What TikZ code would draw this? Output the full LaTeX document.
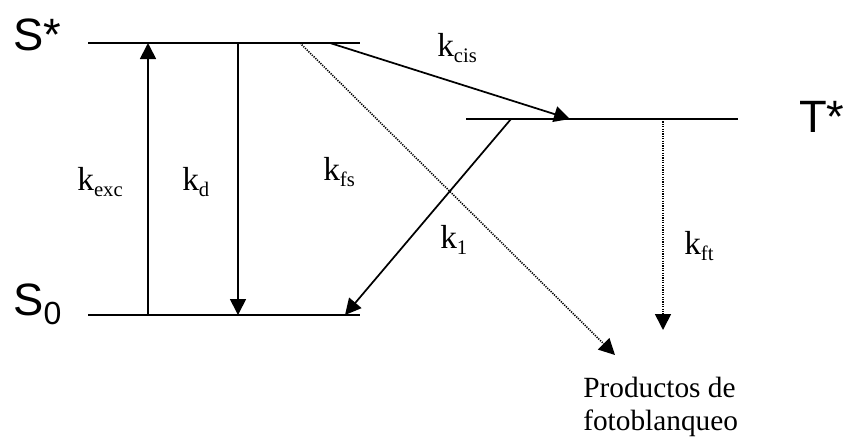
\documentclass[tikz,border=0pt]{standalone}
\usepackage{fontspec}
\setmainfont{Liberation Serif}
\newfontfamily\levelfont{Liberation Sans}
\usetikzlibrary{arrows.meta}

% rate constant: k with a lowered, smaller subscript
\newcommand{\rate}[1]{k\raisebox{-0.18em}{\fontsize{15.5}{17}\selectfont #1}}

\begin{document}
\begin{tikzpicture}[x=0.75pt,y=-0.75pt,
  level/.style={line width=1.4pt},
  solidarrow/.style={line width=1.3pt,-{Triangle[length=12pt,width=12pt]}},
  dotarrow/.style={line width=1.2pt,dash pattern=on 0.9pt off 0.9pt,
    -{Triangle[length=12pt,width=12pt]}},
  levellabel/.style={inner sep=0pt,anchor=base west,font=\levelfont\fontsize{34}{38}\selectfont},
  ratelabel/.style={inner sep=0pt,font=\fontsize{25}{28}\selectfont},
]
\useasboundingbox (0,0) rectangle (846,437);

% energy levels
\coordinate (sL) at (88,43);   \coordinate (sR) at (360,43);
\coordinate (gL) at (88,315);  \coordinate (gR) at (360,315);
\coordinate (tL) at (466,119); \coordinate (tR) at (738,119);
\draw[level] (sL) -- (sR);
\draw[level] (gL) -- (gR);
\draw[level] (tL) -- (tR);

% level names
\node[levellabel] (Sstar) at (13,50) {S*};
\node[levellabel] (Szero) at (13,315) {S\raisebox{-0.2em}{\fontsize{24}{26}\selectfont 0}};
\node[levellabel] (Tstar) at (799,132) {T*};

% anchor points on the levels
\coordinate (excTop) at (148,43);  \coordinate (excBot) at (148,315);
\coordinate (dTop) at (238,43);    \coordinate (dBot) at (238,315);
\coordinate (cisA) at (330,43);    \coordinate (cisB) at (570,119);
\coordinate (fsA) at (300,43);
\coordinate (oneA) at (511,119);   \coordinate (oneB) at (345,315);
\coordinate (ftA) at (663,119);    \coordinate (ftB) at (663,330);
\coordinate (fsB) at (615,355);

% transitions
\draw[solidarrow] (excBot) -- (excTop);
\draw[solidarrow] (dTop) -- (dBot);
\draw[solidarrow] (cisA) -- (cisB);
\draw[solidarrow] (oneA) -- (oneB);
\draw[dotarrow] (fsA) -- (fsB);
\draw[dotarrow] (ftA) -- (ftB);

% rate constants
\node[ratelabel,anchor=base east] (kexc) at (123,190) {\rate{exc}};
\node[ratelabel,anchor=base west] (kd) at (182,190) {\rate{d}};
\node[ratelabel,anchor=base west] (kfs) at (323,180) {\rate{fs}};
\node[ratelabel,anchor=base west] (kcis) at (437,56) {\rate{cis}};
\node[ratelabel,anchor=base west] (kone) at (440,248) {\rate{1}};
\node[ratelabel,anchor=base west] (kft) at (684,254) {\rate{ft}};

% photobleaching products
\node[inner sep=0pt,anchor=base west,align=left,font=\fontsize{22}{24.75}\selectfont] (prod) at (583,430)
  {Productos de\\fotoblanqueo};
\end{tikzpicture}
\end{document}
